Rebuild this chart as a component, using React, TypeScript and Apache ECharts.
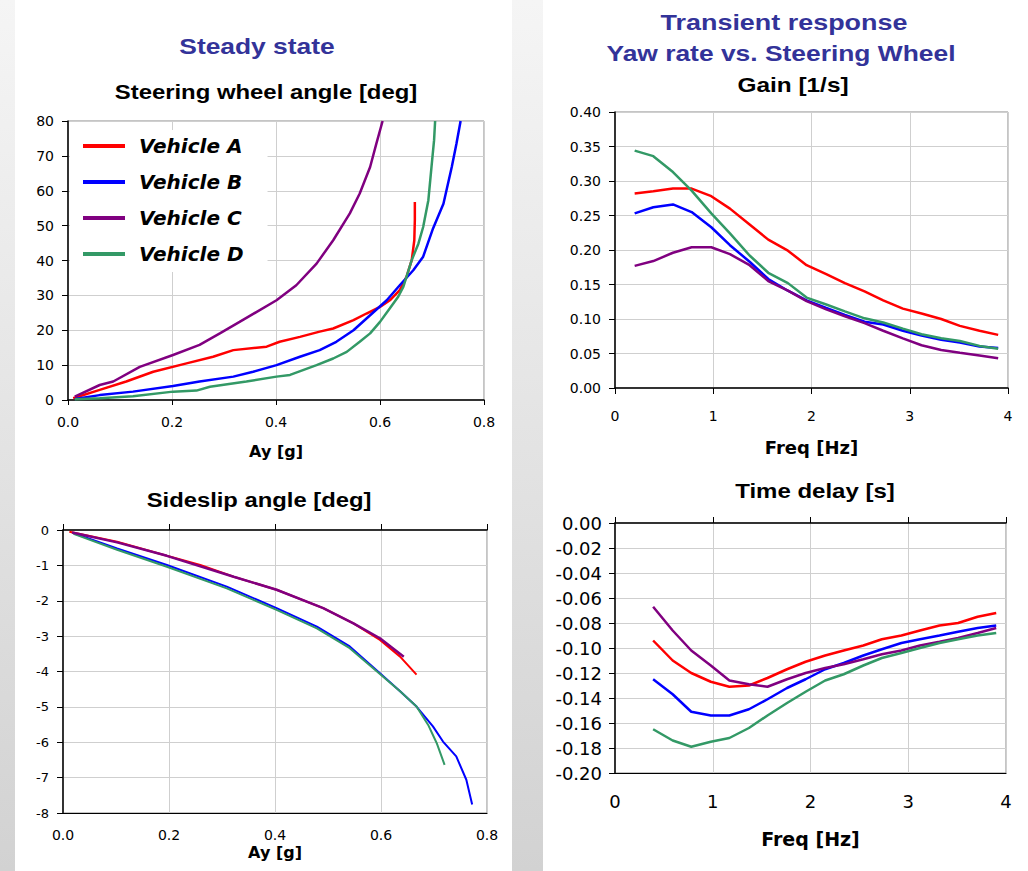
import React, { useEffect, useRef } from "react";
import * as echarts from "echarts";

const NAMES = ["Vehicle A", "Vehicle B", "Vehicle C", "Vehicle D"];
const COLORS = ["#ff0000", "#0000ff", "#800080", "#339966"];

// Steady state: steering wheel angle [deg] vs Ay [g]
const SWA_A = [[0.010,0.5],[0.061,2.9],[0.112,5.3],[0.164,8.1],[0.228,10.5],[0.279,12.4],[0.318,14.3],[0.382,15.3],[0.407,16.7],[0.446,18.1],[0.484,19.6],[0.510,20.5],[0.549,22.9],[0.574,24.8],[0.600,26.7],[0.619,28.6],[0.638,31.5],[0.651,35.3],[0.661,40.1],[0.666,45.8],[0.667,51.6],[0.667,56.8]];
const SWA_B = [[0.013,0.3],[0.061,1.4],[0.125,2.4],[0.202,4.0],[0.253,5.3],[0.318,6.7],[0.356,8.1],[0.401,10.0],[0.446,12.4],[0.484,14.3],[0.516,16.7],[0.549,20.0],[0.581,24.3],[0.613,28.6],[0.638,32.9],[0.664,37.2],[0.683,41.1],[0.702,49.2],[0.722,56.3],[0.738,66.8],[0.747,73.5],[0.755,80]];
const SWA_C = [[0.013,1.0],[0.061,4.3],[0.087,5.3],[0.138,9.5],[0.202,12.9],[0.253,15.8],[0.292,19.1],[0.330,22.4],[0.401,28.6],[0.439,32.9],[0.478,39.1],[0.510,45.8],[0.542,53.5],[0.561,59.2],[0.581,66.8],[0.593,73.5],[0.605,80]];
const SWA_D = [[0.013,0.2],[0.061,0.5],[0.125,1.1],[0.202,2.4],[0.247,2.7],[0.273,3.8],[0.343,5.3],[0.401,6.7],[0.427,7.2],[0.478,10.0],[0.510,11.9],[0.536,13.8],[0.561,16.7],[0.581,19.1],[0.600,22.4],[0.619,26.3],[0.635,29.6],[0.645,32.5],[0.661,40.1],[0.674,44.9],[0.683,49.6],[0.693,57.3],[0.699,66.8],[0.704,74.5],[0.706,80]];

// Steady state: sideslip angle [deg] vs Ay [g]
const SS_A = [[0.012,-0.05],[0.102,-0.33],[0.196,-0.73],[0.259,-0.99],[0.322,-1.32],[0.403,-1.69],[0.491,-2.21],[0.548,-2.64],[0.598,-3.11],[0.636,-3.58],[0.667,-4.09]];
const SS_B = [[0.020,-0.09],[0.102,-0.52],[0.196,-0.99],[0.309,-1.60],[0.403,-2.21],[0.479,-2.73],[0.541,-3.29],[0.598,-4.05],[0.636,-4.56],[0.667,-4.99],[0.698,-5.55],[0.717,-5.98],[0.742,-6.40],[0.761,-7.06],[0.772,-7.76]];
const SS_C = [[0.017,-0.07],[0.102,-0.35],[0.196,-0.73],[0.322,-1.32],[0.403,-1.69],[0.491,-2.21],[0.548,-2.64],[0.598,-3.06],[0.643,-3.58]];
const SS_D = [[0.020,-0.11],[0.102,-0.56],[0.196,-1.04],[0.309,-1.65],[0.403,-2.26],[0.479,-2.78],[0.541,-3.34],[0.598,-4.07],[0.636,-4.56],[0.667,-4.99],[0.689,-5.51],[0.705,-6.02],[0.720,-6.64]];

// Transient: gain [1/s] vs frequency [Hz]
const FREQ_GAIN = [0.2,0.39,0.59,0.78,0.98,1.17,1.37,1.56,1.76,1.95,2.15,2.34,2.54,2.73,2.93,3.12,3.32,3.51,3.71,3.9];
const GAIN_A = [0.282,0.285,0.289,0.289,0.278,0.260,0.237,0.215,0.199,0.178,0.165,0.152,0.140,0.127,0.115,0.108,0.100,0.090,0.083,0.077];
const GAIN_B = [0.253,0.262,0.266,0.255,0.233,0.207,0.183,0.158,0.141,0.127,0.116,0.106,0.096,0.092,0.083,0.076,0.070,0.066,0.060,0.058];
const GAIN_C = [0.177,0.184,0.196,0.204,0.204,0.194,0.178,0.155,0.141,0.126,0.114,0.104,0.094,0.083,0.072,0.062,0.055,0.051,0.047,0.043];
const GAIN_D = [0.344,0.336,0.313,0.286,0.253,0.224,0.192,0.167,0.152,0.131,0.121,0.111,0.101,0.095,0.086,0.078,0.072,0.068,0.061,0.057];

// Transient: time delay [s] vs frequency [Hz]
const FREQ_DELAY = [0.39,0.59,0.78,0.98,1.17,1.37,1.56,1.76,1.95,2.15,2.34,2.54,2.73,2.93,3.12,3.32,3.51,3.71,3.9];
const DELAY_A = [-0.094,-0.110,-0.120,-0.127,-0.131,-0.130,-0.124,-0.117,-0.111,-0.106,-0.102,-0.098,-0.093,-0.090,-0.086,-0.082,-0.080,-0.075,-0.072];
const DELAY_B = [-0.125,-0.137,-0.151,-0.154,-0.154,-0.149,-0.141,-0.132,-0.125,-0.117,-0.112,-0.106,-0.101,-0.096,-0.093,-0.090,-0.087,-0.084,-0.082];
const DELAY_C = [-0.067,-0.086,-0.102,-0.114,-0.126,-0.129,-0.131,-0.125,-0.120,-0.116,-0.113,-0.109,-0.105,-0.102,-0.098,-0.095,-0.092,-0.088,-0.084];
const DELAY_D = [-0.165,-0.174,-0.179,-0.175,-0.172,-0.164,-0.154,-0.144,-0.135,-0.126,-0.121,-0.114,-0.108,-0.104,-0.100,-0.096,-0.093,-0.090,-0.088];

const FONT = "Liberation Sans, Arial, sans-serif";
const FONT2 = "DejaVu Sans, Verdana, sans-serif";

const zip = (xs: number[], ys: number[]) => ys.map((y, i) => [xs[i], y]);

export default function App() {
  const ref = useRef<HTMLDivElement>(null);
  useEffect(() => {
    if (!ref.current) return;
    const chart = echarts.init(ref.current, null, { renderer: "svg" });

    const gridLine = { show: true, lineStyle: { color: "#cfcfcf", width: 1 } };
    const blackLine = { show: true, onZero: false, lineStyle: { color: "#000", width: 1.5 } };
    const nameStyle = (size: number) => ({ fontSize: size, fontWeight: "bold", fontFamily: FONT2, color: "#000" });
    const lab = (size: number, margin: number, fmt?: (v: number) => string) => ({
      margin, fontSize: size, fontFamily: FONT2, color: "#000", ...(fmt ? { formatter: fmt } : {}),
    });
    const f1 = (v: number) => v.toFixed(1);
    const f2 = (v: number) => v.toFixed(2);

    const grids = [
      { left: 68, top: 121, width: 416, height: 279 },
      { left: 63, top: 530, width: 424, height: 283 },
      { left: 615, top: 112, width: 393, height: 276 },
      { left: 615, top: 523, width: 391, height: 250 },
    ].map((g) => ({ ...g, show: true, borderColor: "#8a8a8a", borderWidth: 1, containLabel: false }));

    const xAxis: any[] = [
      {
        gridIndex: 0, type: "value", min: 0, max: 0.8, interval: 0.2, position: "bottom",
        axisLine: blackLine, axisTick: { show: true, length: 5, lineStyle: { color: "#000" } },
        splitLine: gridLine, axisLabel: lab(14, 15, f1),
        name: "Ay [g]", nameLocation: "middle", nameGap: 43, nameTextStyle: nameStyle(16),
      },
      {
        gridIndex: 1, type: "value", min: 0, max: 0.8, interval: 0.2, position: "bottom",
        axisLine: { show: true, onZero: false, lineStyle: { color: "#000", width: 1.2 } }, axisTick: { show: false },
        splitLine: gridLine, axisLabel: lab(14, 15, f1),
        name: "Ay [g]", nameLocation: "middle", nameGap: 31, nameTextStyle: nameStyle(16),
      },
      {
        gridIndex: 1, type: "value", min: 0, max: 0.8, interval: 0.2, position: "top",
        axisLine: blackLine, axisTick: { show: true, length: 6, lineStyle: { color: "#000" } },
        splitLine: { show: false }, axisLabel: { show: false },
      },
      {
        gridIndex: 2, type: "value", min: 0, max: 4, interval: 1, position: "bottom",
        axisLine: blackLine, axisTick: { show: true, length: 6, lineStyle: { color: "#000" } },
        splitLine: gridLine, axisLabel: lab(14, 21),
        name: "Freq [Hz]", nameLocation: "middle", nameGap: 50, nameTextStyle: nameStyle(18),
      },
      {
        gridIndex: 3, type: "value", min: 0, max: 4, interval: 1, position: "bottom",
        axisLine: { show: true, onZero: false, lineStyle: { color: "#000", width: 1.2 } }, axisTick: { show: false },
        splitLine: gridLine, axisLabel: lab(18, 19),
        name: "Freq [Hz]", nameLocation: "middle", nameGap: 56, nameTextStyle: nameStyle(19),
      },
      {
        gridIndex: 3, type: "value", min: 0, max: 4, interval: 1, position: "top",
        axisLine: blackLine, axisTick: { show: true, length: 6, lineStyle: { color: "#000" } },
        splitLine: { show: false }, axisLabel: { show: false },
      },
    ];

    const yAxis: any[] = [
      {
        gridIndex: 0, type: "value", min: 0, max: 80, interval: 10,
        axisLine: blackLine, axisTick: { show: true, length: 6, lineStyle: { color: "#000" } },
        splitLine: gridLine, axisLabel: lab(14, 14),
      },
      {
        gridIndex: 1, type: "value", min: -8, max: 0, interval: 1,
        axisLine: blackLine, axisTick: { show: true, length: 6, lineStyle: { color: "#000" } },
        splitLine: gridLine, axisLabel: lab(13, 14),
      },
      {
        gridIndex: 2, type: "value", min: 0, max: 0.4, interval: 0.05,
        axisLine: blackLine, axisTick: { show: true, length: 6, lineStyle: { color: "#000" } },
        splitLine: gridLine, axisLabel: lab(14, 14, f2),
      },
      {
        gridIndex: 3, type: "value", min: -0.2, max: 0, interval: 0.02,
        axisLine: blackLine, axisTick: { show: true, length: 6, lineStyle: { color: "#000" } },
        splitLine: gridLine, axisLabel: lab(18, 13, f2),
      },
    ];

    const mk = (name: string, color: string, data: number[][], xi: number, yi: number, w = 2.5) => ({
      type: "line", name, data, xAxisIndex: xi, yAxisIndex: yi, showSymbol: false, symbol: "none",
      color, lineStyle: { color, width: w }, clip: true, z: 3,
    });

    const series: any[] = [
      mk(NAMES[0], COLORS[0], SWA_A, 0, 0),
      mk(NAMES[1], COLORS[1], SWA_B, 0, 0),
      mk(NAMES[2], COLORS[2], SWA_C, 0, 0),
      mk(NAMES[3], COLORS[3], SWA_D, 0, 0),
      mk(NAMES[0], COLORS[0], SS_A, 1, 1, 2),
      mk(NAMES[1], COLORS[1], SS_B, 1, 1, 2),
      mk(NAMES[3], COLORS[3], SS_D, 1, 1, 2),
      mk(NAMES[2], COLORS[2], SS_C, 1, 1, 2.5),
      mk(NAMES[0], COLORS[0], zip(FREQ_GAIN, GAIN_A), 3, 2),
      mk(NAMES[1], COLORS[1], zip(FREQ_GAIN, GAIN_B), 3, 2),
      mk(NAMES[2], COLORS[2], zip(FREQ_GAIN, GAIN_C), 3, 2),
      mk(NAMES[3], COLORS[3], zip(FREQ_GAIN, GAIN_D), 3, 2),
      mk(NAMES[0], COLORS[0], zip(FREQ_DELAY, DELAY_A), 4, 3),
      mk(NAMES[1], COLORS[1], zip(FREQ_DELAY, DELAY_B), 4, 3),
      mk(NAMES[2], COLORS[2], zip(FREQ_DELAY, DELAY_C), 4, 3),
      mk(NAMES[3], COLORS[3], zip(FREQ_DELAY, DELAY_D), 4, 3),
    ];

    const title = (text: string, x: number, y: number, size: number, sx: number, color = "#000") => ({
      type: "text", x, y, scaleX: sx,
      style: { text, align: "center", verticalAlign: "middle", fontSize: size, fontWeight: "bold", fontFamily: FONT, fill: color },
    });

    chart.setOption({
      animation: false,
      grid: grids,
      xAxis,
      yAxis,
      series,
      legend: {
        orient: "vertical", left: 70, top: 130, backgroundColor: "#fff",
        padding: [4, 24, 6, 13], itemWidth: 42, itemHeight: 4, itemGap: 12, icon: "rect",
        selectedMode: false, z: 10,
        textStyle: { fontSize: 20, lineHeight: 24, fontWeight: "bold", fontStyle: "italic", fontFamily: FONT2, color: "#000", padding: [0, 0, 0, 9] },
        data: NAMES,
      },
      graphic: [
        title("Steady state", 257, 46, 22, 1.2, "#333399"),
        title("Steering wheel angle [deg]", 266, 92, 20, 1.195),
        title("Sideslip angle [deg]", 259, 500, 20, 1.19),
        title("Transient response", 784, 22, 22, 1.225, "#333399"),
        title("Yaw rate vs. Steering Wheel", 781, 53, 22, 1.2, "#333399"),
        title("Gain [1/s]", 793, 85, 20, 1.22),
        title("Time delay [s]", 815, 491, 20, 1.2),
      ],
    });
    return () => chart.dispose();
  }, []);

  return (
    <div style={{ position: "absolute", left: 0, top: 0, width: 1028, height: 871, background: "linear-gradient(#f5f5f5, #d2d2d2)", overflow: "hidden" }}>
      <div style={{ position: "absolute", left: 15, top: 0, width: 497, height: 871, background: "#fff" }} />
      <div style={{ position: "absolute", left: 543, top: 0, width: 485, height: 871, background: "#fff" }} />
      <div ref={ref} style={{ position: "absolute", left: 0, top: 0, width: 1028, height: 871 }} />
    </div>
  );
}
